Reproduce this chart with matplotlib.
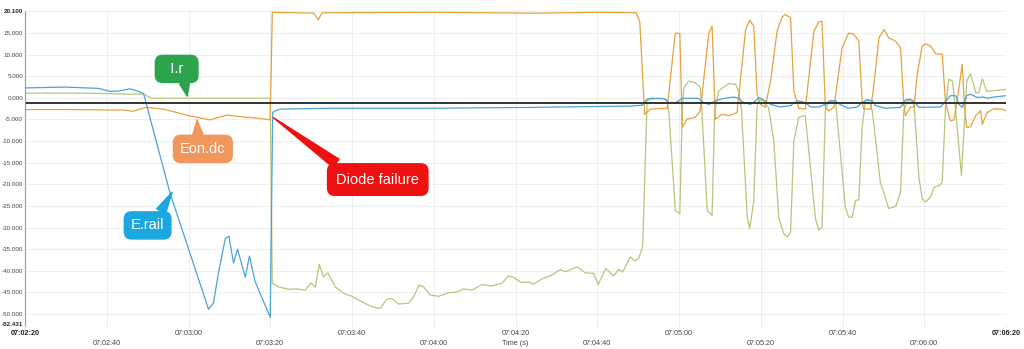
import matplotlib
matplotlib.use("Agg")
import matplotlib.pyplot as plt
from matplotlib.ticker import FuncFormatter

plt.rcParams['font.family'] = ['Liberation Sans', 'DejaVu Sans']

# time is seconds after 07:02:20
t_rail = [0, 5, 10, 15, 18, 20.8, 23, 25.7, 27.5, 29, 35.5, 44.9, 46.1, 47.3, 49,
          49.9, 51, 52, 53.9, 54.9, 56.3, 60, 60.6, 61.2, 62.5, 75, 100, 124, 148, 151,
          152.2, 153, 155.4, 156.6, 157.5, 158.7, 159.9, 160.8, 164.8, 166, 167.3, 168.9,
          170.5, 173.4, 174.6, 175.8, 177.5, 178.7, 179.5, 180.7, 182.4, 184.8, 187.3,
          188.1, 189.3, 190.9, 192.2, 194.2, 195.8, 197.1, 198.3, 199.5, 201.5, 203.6,
          204.8, 206, 207.3, 208.1, 210.5, 214.2, 215.4, 216.6, 217.5, 218.7, 224, 225.3,
          226.4, 227.7, 228.5, 229.3, 230.4, 231.3, 233, 234.6, 235.4, 237, 240]
e_rail = [2.3, 2.4, 2.5, 2.3, 2.2, 1.5, 1.6, 2.1, 1.6, 1.0, -22.1, -48.9, -47.5, -40.6, -32.6,
          -32.0, -38.2, -35.0, -41.5, -36.6, -42.5, -50.8, -3.4, -3.0, -2.6, -2.4, -2.4, -2.2, -1.9, -1.7,
          -0.3, -0.1, -0.1, -0.3, -1.1, -1.3, -0.7, -0.1, -0.1, -1.1, -1.5, -0.7,
          -0.2, 0.2, -0.1, -1.1, -1.5, -0.7, 0.1, -0.5, -1.5, -2.1, -1.8,
          -1.1, -0.7, -1.1, -2.1, -2.1, -1.5, -0.7, -0.7, -1.6, -2.4, -2.1,
          -1.1, -0.4, -0.7, -1.8, -2.4, -2.2, -0.5, -0.3, -0.8, -2.2, -2.1, -0.7,
          0.5, 0.5, -1.5, -2.2, 0.5, 0.85, 0.1, 0.2, -0.1, 0.2, 0.5]

t_eon = [0, 10, 20, 24, 26.5, 28, 29.8, 33.9, 40, 45.3, 47, 49.4, 53.4, 57, 60,
         60.5, 70.7, 71.7, 72.7, 100, 125, 140, 149.5, 150.4, 151.6, 153, 157.1, 159.1,
         160.2, 160.8, 162, 164, 165.2, 167.3, 168.1, 168.9, 170.5, 172.2, 174.2, 176.3,
         177.3, 178.3, 179.1, 179.9, 181.1, 182.4, 184, 185.2, 186, 187.3, 188.1, 189.3,
         190.9, 193, 194.2, 195, 195.8, 196.6, 197.9, 199.9, 201.5, 202.8, 204, 204.8,
         205.2, 206.9, 207.7, 208.9, 210.2, 211.3, 213, 214.2, 215, 215.4, 216.6, 217.5,
         218.3, 219.5, 220.3, 221.5, 222.8, 224.4, 225.2, 226.4, 227.3, 228.5, 229.3,
         229.9, 230.4, 231.3, 232.6, 233.8, 234.2, 235.4, 237, 239.1, 240]
eon_dc = [-2.7, -2.7, -2.8, -2.8, -3.1, -2.6, -2.2, -2.6, -4.1, -5.1, -4.6, -4.0, -4.4, -4.7, -5.1,
          19.8, 19.6, 18.0, 19.7, 19.8, 19.6, 19.8, 19.7, 17.7, -3.8, -2.6, -2.4, 15.0,
          14.9, -6.8, -4.9, -4.5, -3.0, 15.0, 16.6, -4.9, -3.8, -4.1, -3.4, 15.8,
          18.0, 16.6, 0.9, -1.5, -2.2, 3.9, 15.4, 18.7, 19.3, 18.5, 1.6, -2.4,
          -2.6, 15.4, 17.6, 17.7, -2.2, -3.0, -2.2, 11.6, 15.0, 14.7, 13.1, -0.7,
          -2.6, -2.6, 3.2, 13.9, 15.8, 13.9, 13.1, 11.6, -1.5, -4.1, -2.2, -2.1,
          5.5, 12.0, 12.5, 12.0, 10.2, 10.1, -1.1, -5.3, -5.1, 2.4, 7.8,
          -3.0, -6.8, -6.7, -4.1, -3.0, -6.1, -3.4, -2.5, -2.6, -3.0]

t_ir = [0, 10, 20, 25.7, 29, 31, 45, 60, 60.5, 62, 64.5, 66.5, 68.5, 70, 71, 72, 73, 74.1,
        75.9, 77.9, 80, 82.4, 84.9, 86.9, 88.5, 89.8, 91.4, 93.8, 95.1, 96.4, 97.5, 99.1,
        101.2, 103.6, 105.7, 107.3, 109.3, 111.8, 114.2, 116.7, 118.2, 119.5, 121.4, 123.2,
        124.4, 126.5, 128.9, 131, 132.2, 135.1, 137.1, 139.1, 140.2, 142.1, 144, 145.2,
        146.2, 148.1, 149.2, 150.1, 151.1, 152.2, 153, 156.2, 157.1, 157.5, 159.1, 160.2,
        160.8, 161.2, 162.4, 164, 165.2, 165.6, 166.9, 168.1, 168.7, 169.7, 170.5, 172.2,
        173.8, 174.6, 175.3, 176.7, 177.3, 178.3, 179.1, 179.5, 180.7, 181.1, 181.9, 183.2,
        184.4, 185.6, 186.5, 187.3, 188.1, 189.3, 190.9, 193.4, 194.2, 195, 195.8, 196.6,
        198.3, 200.7, 201.5, 202.4, 203.2, 204, 204.8, 205.6, 206.4, 207.3, 209.3, 210.1,
        211.3, 213, 214.2, 215, 215.8, 217, 217.5, 218.7, 219.5, 220.3, 221.5, 222.4,
        223.6, 224.4, 225.2, 226, 226.9, 227.7, 229.1, 230.4, 231.3, 232.6, 233.4, 234.2,
        235.3, 236.2, 238.3, 240]
i_r = [1.1, 1.1, 1.0, 0.85, 0.9, -0.1, -0.1, -0.1, -42.9, -43.7, -44.3, -44.2, -44.5, -42.8, -43.8, -38.5, -41.4, -40.5,
       -43.7, -45.2, -45.9, -47.2, -48.3, -48.7, -46.6, -46.4, -47.7, -47.5, -46.0, -43.3, -43.7, -45.6,
       -45.9, -45.1, -44.9, -44.2, -44.5, -43.2, -43.5, -42.9, -41.2, -41.5, -42.7, -42.6,
       -43.1, -41.9, -41.0, -39.7, -40.2, -39.1, -40.5, -40.6, -43.2, -39.5, -41.2, -39.7,
       -40.3, -36.8, -37.7, -37.2, -34.5, -0.7, -0.3, -0.1, -0.7, -3.0, -26.0, -26.8,
       -3.0, 2.4, 3.9, 3.5, 2.4, -3.0, -26.0, -27.2, -3.5, 1.6, 2.2, 3.3,
       3.2, 1.6, -3.0, -27.6, -30.3, -23.7, -2.2, -0.5, -0.7, -1.5, -2.2, -9.9,
       -27.6, -31.4, -32.2, -31.0, -9.9, -4.5, -4.1, -28.0, -30.6, -29.9, -3.0, -0.7,
       -0.7, -25.3, -27.6, -27.6, -23.7, -23.6, -6.8, -0.7, -0.5, -3.0, -19.9, -21.8,
       -25.6, -25.1, -21.8, -3.0, -0.7, -0.7, -1.5, -18.4, -23.3, -24.1, -23.0, -20.7,
       -20.3, -19.5, -2.2, 4.3, 3.9, -3.0, -18.0, 3.9, 5.6, 1.2, 1.2, 4.5,
       1.5, 1.6, 1.8, 2.0]

ref_level = -1.1
y_min, y_max = -52.431, 20.1
x_ticks = list(range(0, 241, 20))

fig = plt.figure(figsize=(10.24, 3.49), dpi=100)
ax = fig.add_axes([25 / 1024, 1 - 324.5 / 349, 981 / 1024, 313.5 / 349])

ax.plot(t_ir, i_r, color='#b4c77c', lw=0.9)
ax.plot(t_eon, eon_dc, color='#e6a23c', lw=0.9)
ax.plot(t_rail, e_rail, color='#4aa3d6', lw=0.9)
ax.axhline(ref_level, color='#333333', lw=1.4)

ax.set_xlim(0, 240)
ax.set_ylim(y_min, y_max)
ax.set_yticks([y_min] + list(range(-50, 20, 5)) + [y_max])
ax.yaxis.set_major_formatter(FuncFormatter(lambda v, p: f"{v:.3f}"))
ax.set_xticks(x_ticks)


def clock(s, pos=None):
    s = int(round(s)) + 7 * 3600 + 2 * 60 + 20
    return f"{s // 3600:02d}:{s % 3600 // 60:02d}:{s % 60:02d}"


ax.xaxis.set_major_formatter(FuncFormatter(clock))
ax.tick_params(axis='x', labelsize=5.2, colors='#444444', length=2, width=0.5, color='#dddddd')
ax.tick_params(axis='y', labelsize=4.5, colors='#444444', length=0, pad=1.4)
for i, tk in enumerate(ax.xaxis.get_major_ticks()):
    tk.set_pad(2.2 if i % 2 == 0 else 9.2)

ax.grid(True, color='#ebebeb', lw=0.6)
ax.get_ygridlines()[0].set_visible(False)
ax.set_axisbelow(True)
for side in ['top', 'right', 'bottom']:
    ax.spines[side].set_visible(False)
ax.spines['left'].set_color('#999999')
ax.spines['left'].set_linewidth(0.8)

fig.canvas.draw()
for lbl_list in (ax.get_xticklabels(), ax.get_yticklabels()):
    lbl_list[0].set_fontweight('bold')
    lbl_list[-1].set_fontweight('bold')
    lbl_list[0].set_color('#222222')
    lbl_list[-1].set_color('#222222')

ax.text(0.5, -0.06, 'Time (s)', transform=ax.transAxes, ha='center', va='center',
        fontsize=5.2, color='#444444')

# callouts
callouts = [
    ('  I.r  ', (39.7, 0.4), (37.1, 6.7), '#2ca44e', (0.72, 0.0), 0.45),
    ('Eon.dc', (42.1, -5.1), (43.5, -11.8), '#f0975c', (0.4, 1.0), 0.45),
    ('E.rail', (36.0, -21.8), (30.0, -29.5), '#1ba8e0', (0.78, 1.0), 0.45),
    ('Diode failure', (60.8, -4.6), (86.3, -18.9), '#ee1111', (0.15, 1.0), 0.6),
]
for label, tip, center, col, rp, pad in callouts:
    ax.annotate(label, xy=tip, xytext=center, textcoords='data', ha='center', va='center',
                fontsize=10.5, color='white',
                bbox=dict(boxstyle=f'round,pad={pad},rounding_size=0.5', fc=col, ec=col),
                arrowprops=dict(arrowstyle='wedge,tail_width=0.7', fc=col, ec=col,
                                relpos=rp, shrinkA=0, shrinkB=0))

fig.savefig('out.png', dpi=100)
